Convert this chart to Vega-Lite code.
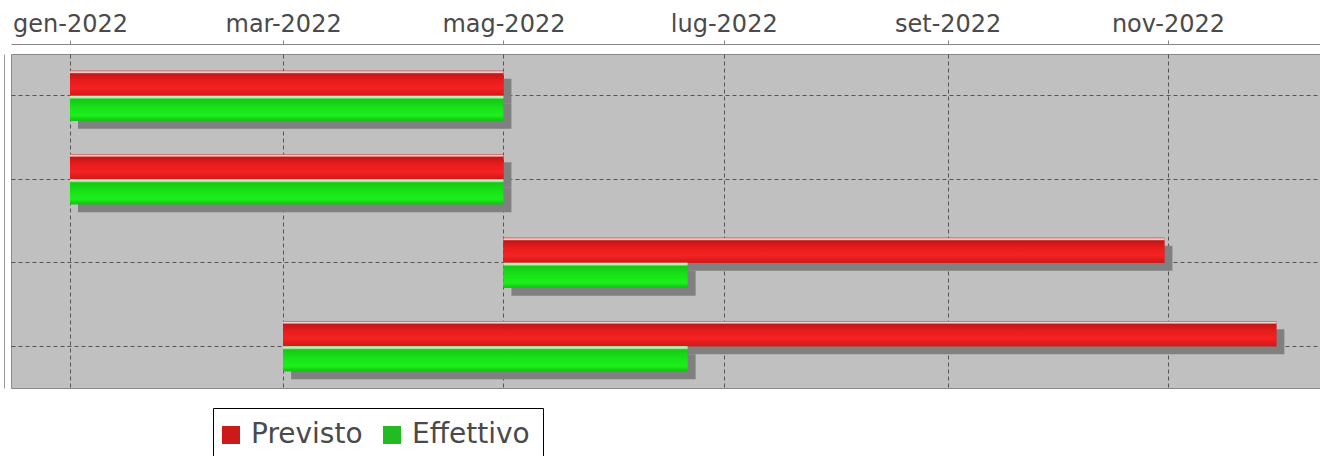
{
  "$schema": "https://vega.github.io/schema/vega-lite/v6.json",
  "width": 1309,
  "height": 334,
  "autosize": {"type": "none"},
  "padding": {"left": 11, "top": 54, "right": 0, "bottom": 68},
  "background": "white",
  "config": {
    "view": {"fill": "#c0c0c0", "stroke": "#8a8a8a", "strokeWidth": 1},
    "font": "DejaVu Sans"
  },
  "data": {
    "values": [
      {"task": "Attività 1", "series": "Previsto", "start": "2022-01-01", "end": "2022-05-01"},
      {"task": "Attività 1", "series": "Effettivo", "start": "2022-01-01", "end": "2022-05-01"},
      {"task": "Attività 2", "series": "Previsto", "start": "2022-01-01", "end": "2022-05-01"},
      {"task": "Attività 2", "series": "Effettivo", "start": "2022-01-01", "end": "2022-05-01"},
      {"task": "Attività 3", "series": "Previsto", "start": "2022-05-01", "end": "2022-10-31"},
      {"task": "Attività 3", "series": "Effettivo", "start": "2022-05-01", "end": "2022-06-21"},
      {"task": "Attività 4", "series": "Previsto", "start": "2022-03-01", "end": "2022-12-01"},
      {"task": "Attività 4", "series": "Effettivo", "start": "2022-03-01", "end": "2022-06-21"}
    ]
  },
  "encoding": {
    "y": {
      "field": "task",
      "type": "nominal",
      "sort": null,
      "scale": {"paddingInner": 0, "paddingOuter": 0},
      "axis": {
        "orient": "left",
        "title": null,
        "labels": false,
        "ticks": false,
        "grid": true,
        "gridDash": [4, 3],
        "gridColor": "#555555",
        "gridOpacity": 1,
        "bandPosition": 0.5,
        "domainColor": "#999999",
        "offset": 7
      }
    },
    "x": {
      "field": "start",
      "type": "temporal",
      "scale": {
        "type": "utc",
        "domain": [1639584000000, 1670896800000]
      },
      "axis": {
        "orient": "top",
        "title": null,
        "labelExpr": "['gen','feb','mar','apr','mag','giu','lug','ago','set','ott','nov','dic'][utcmonth(datum.value)] + '-' + utcyear(datum.value)",
        "tickCount": {"interval": "month", "step": 2},
        "grid": true,
        "gridDash": [4, 3],
        "gridColor": "#555555",
        "gridOpacity": 1,
        "tickSize": 4,
        "tickColor": "#888888",
        "domainColor": "#888888",
        "offset": 10,
        "labelFontSize": 24,
        "labelColor": "#4a4a4a",
        "labelPadding": 4,
        "labelFlush": false,
        "labelOverlap": false
      }
    },
    "x2": {"field": "end"}
  },
  "layer": [
    {
      "transform": [{"filter": "datum.series === 'Previsto'"}],
      "mark": {"type": "bar", "height": 25, "yOffset": -4.5, "xOffset": 8, "x2Offset": 8, "fill": "#808080"}
    },
    {
      "transform": [{"filter": "datum.series === 'Effettivo'"}],
      "mark": {"type": "bar", "height": 25, "yOffset": 20.5, "xOffset": 8, "x2Offset": 8, "fill": "#808080"}
    },
    {
      "transform": [{"filter": "datum.series === 'Previsto'"}],
      "mark": {"type": "bar", "height": 25, "yOffset": -12.5},
      "encoding": {
        "color": {
          "field": "series",
          "type": "nominal",
          "scale": {"domain": ["Previsto", "Effettivo"], "range": ["#cc1a1a", "#22bb22"]},
          "legend": {
            "title": null,
            "orient": "none",
            "legendX": 202,
            "legendY": 354,
            "direction": "horizontal",
            "symbolType": "square",
            "symbolSize": 324,
            "symbolStrokeWidth": 0,
            "symbolOffset": -9,
            "labelFontSize": 28,
            "labelColor": "#4a4a4a",
            "labelFont": "DejaVu Sans",
            "strokeColor": "black",
            "fillColor": "white",
            "padding": 13,
            "columnPadding": 20,
            "labelOffset": 6
          }
        }
      }
    },
    {
      "transform": [{"filter": "datum.series === 'Effettivo'"}],
      "mark": {"type": "bar", "height": 25, "yOffset": 12.5},
      "encoding": {
        "color": {"field": "series", "type": "nominal"}
      }
    },
    {
      "transform": [{"filter": "datum.series === 'Previsto'"}],
      "mark": {
        "type": "bar",
        "height": 25,
        "yOffset": -12.5,
        "fill": {
          "gradient": "linear", "x1": 0, "y1": 0, "x2": 0, "y2": 1,
          "stops": [
            {"offset": 0, "color": "#d07070"},
            {"offset": 0.06, "color": "#fde8e8"},
            {"offset": 0.12, "color": "#c41616"},
            {"offset": 0.4, "color": "#e81c1c"},
            {"offset": 0.7, "color": "#f52222"},
            {"offset": 1, "color": "#cf1818"}
          ]
        }
      }
    },
    {
      "transform": [{"filter": "datum.series === 'Effettivo'"}],
      "mark": {
        "type": "bar",
        "height": 25,
        "yOffset": 12.5,
        "fill": {
          "gradient": "linear", "x1": 0, "y1": 0, "x2": 0, "y2": 1,
          "stops": [
            {"offset": 0, "color": "#c8f4c8"},
            {"offset": 0.08, "color": "#b0ecb0"},
            {"offset": 0.14, "color": "#14c814"},
            {"offset": 0.5, "color": "#18e418"},
            {"offset": 0.8, "color": "#1cf01c"},
            {"offset": 1, "color": "#12c012"}
          ]
        }
      }
    }
  ]
}
